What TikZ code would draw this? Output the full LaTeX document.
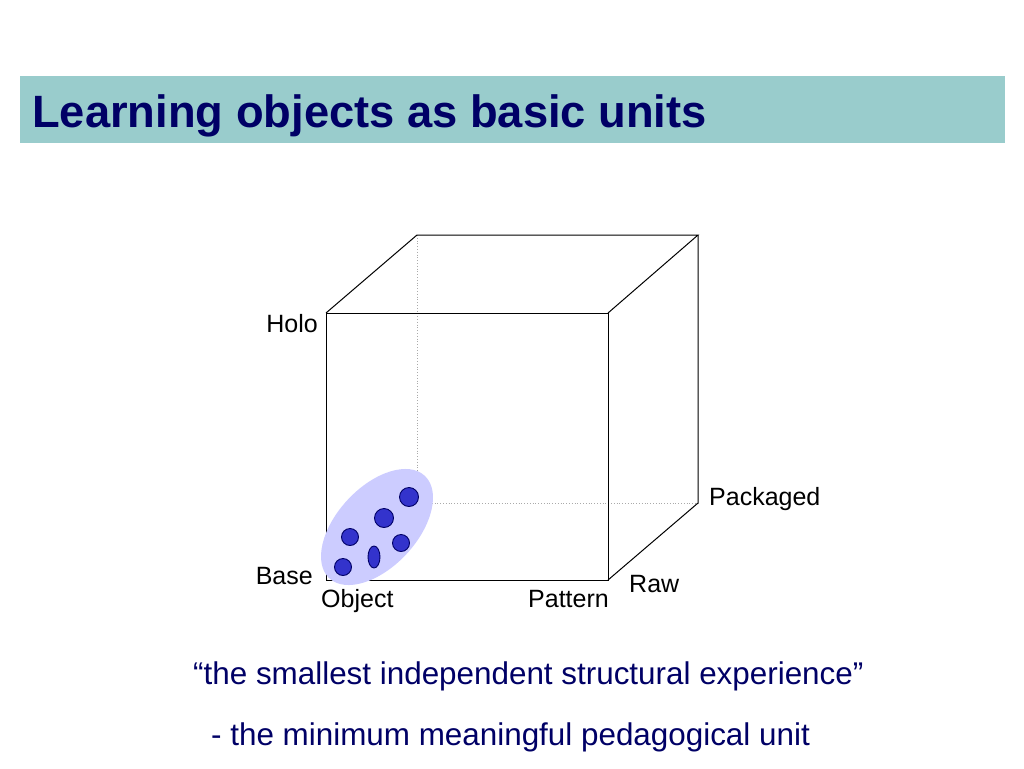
\documentclass[tikz,border=0pt]{standalone}
\usepackage{fontspec}
\setmainfont{Liberation Sans}
\definecolor{barteal}{HTML}{99CCCC}
\definecolor{navy}{HTML}{000066}
\definecolor{lav}{HTML}{CCCCFF}
\definecolor{dotblue}{HTML}{3333CC}
\definecolor{hidgray}{HTML}{AAAAAA}
\begin{document}
\begin{tikzpicture}[x=1pt,y=-1pt,
  edge/.style={draw=black,line width=1pt},
  hidden/.style={draw=hidgray,line width=0.8pt,dotted},
  lbl/.style={inner sep=0pt,font=\fontsize{25}{30}\selectfont,text=black},
  body/.style={inner sep=0pt,font=\fontsize{31.4}{37}\selectfont,text=navy},
  dot/.style={fill=dotblue,draw=navy,line width=0.9pt}]
\useasboundingbox (0,0) rectangle (1024,768);
\fill[white] (0,0) rectangle (1024,768);
% title bar
\fill[barteal] (20,76) rectangle (1005,143);
\node[anchor=base west,inner sep=0pt,font=\fontsize{45.3}{52}\selectfont\bfseries,text=navy] (title) at (32,127) {Learning objects as basic units};
% cube corners
\coordinate (ftl) at (326,313);
\coordinate (ftr) at (608,313);
\coordinate (fbl) at (326,580);
\coordinate (fbr) at (608,580);
\coordinate (btl) at (417,235);
\coordinate (btr) at (698,235);
\coordinate (bbl) at (417,503);
\coordinate (bbr) at (698,503);
% hidden edges
\draw[hidden] (btl) -- (bbl) -- (bbr);
\draw[hidden] (bbl) -- (fbl);
% visible edges
\draw[edge] (ftl) rectangle (fbr);
\draw[edge] (ftl) -- (btl) -- (btr) -- (ftr);
\draw[edge] (btr) -- (bbr) -- (fbr);
% cluster
\fill[lav] (377,527) ellipse[x radius=70pt,y radius=40pt,rotate=47];
\draw[dot] (409,497) circle[radius=9.5pt];
\draw[dot] (384,518) circle[radius=9.5pt];
\draw[dot] (350,537) circle[radius=8.5pt];
\draw[dot] (401,543) circle[radius=8.5pt];
\draw[dot] (374,557) ellipse[x radius=6pt,y radius=11pt];
\draw[dot] (343,567) circle[radius=8.5pt];
% axis labels
\node[lbl,anchor=base east] (holo) at (318,332) {Holo};
\node[lbl,anchor=base east] (base) at (313,584) {Base};
\node[lbl,anchor=base west] (object) at (321,607) {Object};
\node[lbl,anchor=base east] (pattern) at (609,607) {Pattern};
\node[lbl,anchor=base west] (raw) at (629,592) {Raw};
\node[lbl,anchor=base west] (packaged) at (709,505) {Packaged};
% body text
\node[body,anchor=base west] (quote) at (193,684) {“the smallest independent structural experience”};
\node[body,anchor=base west] (unit) at (211,745) {- the minimum meaningful pedagogical unit};
\end{tikzpicture}
\end{document}
